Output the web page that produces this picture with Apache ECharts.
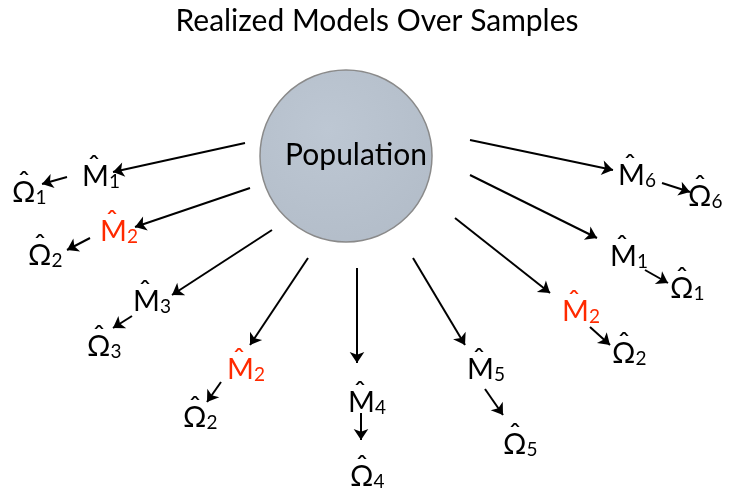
<!DOCTYPE html>
<html>
<head>
<meta charset="utf-8">
<script src="https://cdn.jsdelivr.net/npm/echarts@6/dist/echarts.min.js"></script>
<style>
  html, body { margin: 0; padding: 0; background: #fff; }
  #main { width: 731px; height: 491px; }
</style>
</head>
<body>
<div id="main"></div>
<script>
// diagram text
const titleText = 'Realized Models Over Samples';
const centerLabel = 'Population';
const centerPoint = [346, 156];

// nodes: letter, subscript, highlighted, left edge x, body middle y
const nodeLetters = ['M', 'Ω', 'M', 'Ω', 'M', 'Ω', 'M', 'Ω', 'M', 'Ω', 'M', 'Ω', 'M', 'Ω', 'M', 'Ω', 'M', 'Ω'];
const nodeSubs = ['1', '1', '2', '2', '3', '3', '2', '2', '4', '4', '5', '5', '2', '2', '1', '1', '6', '6'];
const nodeRed = [false, false, true, false, false, false, true, false, false, false, false, false, true, false, false, false, false, false];
const nodeX = [82, 12, 100, 28, 133, 87, 227, 183, 348, 350, 467, 503, 562, 612, 610, 670, 618, 688];
const nodeY = [177, 193, 232, 256, 302, 347, 370, 418, 403, 477, 370, 445, 312, 354, 257, 289, 176, 197];

// arrows: start and end points
const arrowFrom = [
    [245, 143], [67, 177], [250, 188], [90, 238], [272, 230], [132, 316],
    [308, 258], [221, 382], [357, 268], [361, 413], [413, 258], [485, 389],
    [455, 218], [590, 327], [470, 175], [645, 270], [470, 140], [662, 183]
];
const arrowTo = [
    [113, 172], [42, 184], [135, 227], [67, 250], [172, 295], [113, 328],
    [250, 345], [207, 402], [357, 363], [361, 440], [465, 345], [503, 415],
    [550, 293], [610, 345], [597, 238], [668, 283], [613, 170], [690, 192]
];

const FONT = 'Lato, "DejaVu Sans", sans-serif';
const RED = '#ff2a00';

let chart = echarts.init(document.getElementById('main'), null, {renderer: 'canvas'});

let nodeData = nodeLetters.map((letter, i) => {
    let color = nodeRed[i] ? RED : '#000';
    return {
        value: [nodeX[i], nodeY[i]],
        label: {
            formatter: '{m|' + letter + '}{s|' + nodeSubs[i] + '}',
            rich: {
                m: {fontFamily: FONT, fontSize: 29, color: color, lineHeight: 28},
                s: {fontFamily: FONT, fontSize: 19, color: color, lineHeight: 21, verticalAlign: 'bottom'}
            }
        }
    };
});

let hatData = nodeLetters.map((letter, i) => ({
    value: [nodeX[i], nodeY[i]],
    label: {color: nodeRed[i] ? RED : '#000'}
}));

let arrowData = arrowFrom.map((p, i) => ({coords: [p, arrowTo[i]]}));

let option = {
    backgroundColor: '#fff',
    animation: false,
    title: {
        text: titleText,
        left: 372,
        textAlign: 'center',
        top: 1,
        textStyle: {fontFamily: FONT, fontSize: 30, fontWeight: 'normal', color: '#000'}
    },
    grid: {left: 0, right: 0, top: 0, bottom: 0},
    xAxis: {type: 'value', min: 0, max: 731, show: false},
    yAxis: {type: 'value', min: 0, max: 491, inverse: true, show: false},
    series: [
        {
            type: 'lines',
            coordinateSystem: 'cartesian2d',
            silent: true,
            symbol: ['none', 'arrow'],
            symbolSize: 11,
            lineStyle: {color: '#000', width: 2, opacity: 1, curveness: 0},
            data: arrowData,
            z: 1
        },
        {
            type: 'scatter',
            silent: true,
            symbol: 'circle',
            symbolSize: 172,
            itemStyle: {
                color: new echarts.graphic.RadialGradient(0.4, 0.35, 0.7, [
                    {offset: 0, color: '#bdc7d3'},
                    {offset: 1, color: '#b3bdc9'}
                ]),
                borderColor: '#8a8a8a',
                borderWidth: 1.5,
                opacity: 1
            },
            label: {
                show: true,
                position: 'inside',
                formatter: centerLabel,
                fontFamily: FONT,
                fontSize: 30,
                color: '#000',
                offset: [10, -1]
            },
            data: [centerPoint],
            z: 2
        },
        {
            type: 'scatter',
            silent: true,
            symbolSize: 0,
            itemStyle: {opacity: 1},
            label: {
                show: true,
                position: [0, 0],
                align: 'left',
                verticalAlign: 'middle',
                opacity: 1
            },
            data: nodeData,
            z: 3
        },
        {
            type: 'scatter',
            silent: true,
            symbolSize: 0,
            itemStyle: {opacity: 1},
            label: {
                show: true,
                position: [0, 0],
                align: 'center',
                verticalAlign: 'middle',
                formatter: 'ˆ',
                fontFamily: FONT,
                fontSize: 30,
                opacity: 1,
                offset: [12, -10]
            },
            data: hatData,
            z: 3
        }
    ]
};
chart.setOption(option);
</script>
</body>
</html>
